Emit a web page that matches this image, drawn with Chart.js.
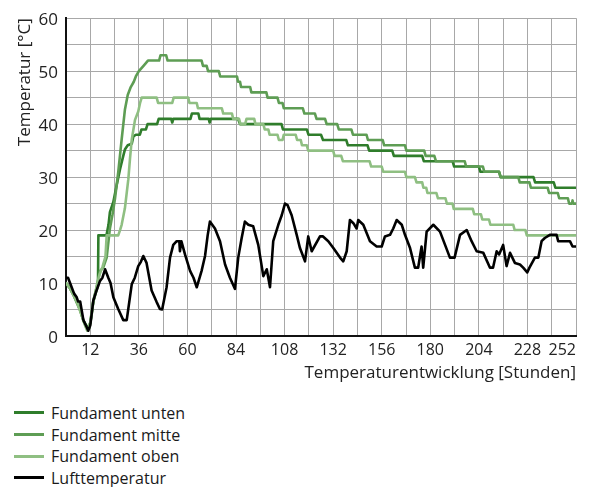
<!DOCTYPE html>
<html><head><meta charset="utf-8">
<script src="https://cdn.jsdelivr.net/npm/chart.js@4/dist/chart.umd.min.js"></script>
<style>
html,body{margin:0;padding:0;background:#fff;}
#wrap{position:relative;width:592px;height:487px;overflow:hidden;}
#c{position:absolute;left:0;top:0;}
#legend{position:absolute;left:14px;top:402px;font-family:'Open Sans',sans-serif;font-size:16px;color:#1a1a1a;}
.item{display:flex;align-items:center;height:21.7px;white-space:nowrap;}
.sw{width:30px;height:3px;margin-right:7px;}
</style></head>
<body><div id="wrap"><canvas id="c" width="592" height="390"></canvas><div id="legend"></div></div>
<script>
const seriesNames = ['Fundament unten', 'Fundament mitte', 'Fundament oben', 'Lufttemperatur'];
const seriesColors = ['#2f7d2b', '#5e9d54', '#8fbf82', '#000000'];

const hoursUnten = [0,2,4,5.3,7,8.5,10,11,12,13.5,15,15.8,16,20,21,21.7,23.4,25,26.7,28.3,29.1,30.5,32.5,33.3,34.5,36.5,37.3,39.5,40.3,45,45.8,52,52.5,53,61.5,62.2,65.4,66,70.5,71,71.5,85,86,106.5,107.2,119,119.8,126,127,138.5,139.3,149,149.8,161.2,162,176,176.8,191,191.8,204,204.8,214,214.8,231,231.8,241,241.8,252];
const fundamentUnten = [10,9,7.5,6.5,5,3,2,1.5,2.5,6.5,8.5,9.5,19,19,21,23.4,25.3,28.4,31.5,34,35.2,36,36.3,37.7,38,38,39,39,40,40,41,41,40.3,41,41,42,42,41,41,40.3,41,41,40,40,39,39,38,38,37,37,36,36,35,35,34,34,33,33,32,32,31,31,30,30,29,29,28,28];

const hoursMitte = [0,2,4,5.3,7,9,10.5,11.5,12.5,13.5,15,16.8,18.4,20.1,21.7,23,24.2,25.8,27.5,29.1,30.5,32,33.5,34.5,36,38.3,40.5,46,46.7,49.5,50.2,67,67.7,69.5,70.2,75.5,76.2,84.5,85,86,86.5,91,91.6,99,99.6,104.5,105.2,107,107.6,117,117.8,123,123.8,128,128.8,134,134.8,141,141.8,148.5,149.2,156.5,157.2,167.5,168.2,177,177.7,182,182.8,197,197.7,206,206.7,214,214.7,223.5,224.2,229,229.7,238,238.7,243,243.7,248,248.6,250,250.3,250.6,252];
const fundamentMitte = [10,9,7.5,6.3,4.8,2.5,1.3,1.5,3.5,6.5,9,12.3,12.9,14.8,20.3,23,25.9,30.9,37.1,42.7,45.5,47,48,49,50,51,52,52,53,53,52,52,51,51,50,50,49,49,48,48,47,47,46,46,45,45,44,44,43,43,42,42,41,41,40,40,39,39,38,38,37,37,36,36,35,35,34,34,33,33,32,32,31,31,30,30,29,29,28,28,27,27,26,26,25,25,25.6,25,25];

const hoursOben = [0,2,4,5.3,6.9,9.4,10.5,11.9,13.5,15.1,16.5,18,19.5,20.1,25.8,26.7,27.5,29.1,30.8,31.6,32.5,34.1,35.7,36.6,37.4,44.8,45.5,52.5,53.2,60.4,61,64.6,65.2,77,77.7,82,82.6,85.5,86.2,88.5,89.2,93,93.6,97.5,98.2,100,100.6,104.5,105.2,107,107.6,113.5,114.2,116,116.6,119,119.7,132,132.7,136,136.8,150,150.8,156,156.8,167.5,168.2,172.4,173.2,176,176.6,178,178.6,183,183.8,187.5,188.2,191,191.6,201,201.7,205,205.7,209,209.7,221,221.7,227,227.7,252];
const fundamentOben = [10,9,7.5,6.5,4.8,2,1,2.4,6.7,9.2,11.5,13,15,19,19,20,21,24.1,29.6,33.4,37.1,40.8,42.4,44,45,45,44,44,45,45,44,44,43,43,42,42,41,41,40,40,41,41,40,40,39,39,38,38,37,37,38,38,37,37,36,36,35,35,34,34,33,33,32,32,31,31,30,30,29,29,28,28,27,27,26,26,25,25,24,24,23,23,22,22,21,21,20,20,19,19];

const hoursLuft = [0,1,2,4,5.3,6,7,8.6,10.2,11,12,13.5,15,16.8,18,19.3,20.9,22,23.4,25.8,28.3,30,32.5,34,35.7,37,38.2,39.8,42.3,44.8,46.4,47.5,49.7,51.4,53,54.7,56,56.3,57,58.8,61.3,63,64.6,67,68.7,70,71.1,73.6,76.1,78.6,81,83.5,85.1,86.8,88.4,90.1,92.5,95,97.5,99.2,100.8,102.4,104.9,106.6,108.2,109.5,111.5,114,115.6,118.1,119.7,121.4,125.5,127,129.6,132.1,135.4,137,138.7,140.3,142,143.6,144.4,146.9,150.2,153.5,156,157.6,160.1,161.7,163.4,165.9,167.5,170,172.4,174,175.7,176.5,178.2,181.5,184.8,187.3,189.7,192,194.7,198,200.4,202.9,206.2,209.5,211,212.8,214,216,217.7,219.4,221.8,224.3,225.9,227.9,229,231.7,233.4,235,236.6,239.1,242.4,243.2,249,250.3,252];
const lufttemperatur = [11,11,10,8,7.3,6.5,6.5,3,1.7,1,2,6.7,8.5,10.4,11,12.6,11,10,7.3,5.1,3,3,9.8,11,13.2,14,15.1,13.8,8.6,6.4,5.1,5,9.2,14.8,17.2,17.9,17.9,16,17.9,15.4,12.3,11,9.2,12.3,15.1,19,21.6,20.3,17.9,13.5,11,8.9,14.8,18.5,21.6,21,20.7,17.2,11.3,12.6,9.2,17.9,21,22.8,25,24.7,22.8,19.1,16.6,14.1,18.8,16,18.8,18.8,17.9,16.6,14.8,14.1,16,21.9,21.3,20.3,21.9,21,17.9,16.9,16.9,18.8,19.1,20.3,21.9,21,19.1,16.6,12.9,12.9,16.9,12.9,19.7,21,19.7,17.2,14.8,14.8,19.1,20,17.9,16,15.7,12.9,12.9,16,15.4,17.2,13.2,15.7,13.8,13.5,12.9,12,12.9,14.8,14.8,17.9,18.5,19.1,19.1,17.9,17.9,16.9,16.9];

const xTickLabels = [12,36,60,84,108,132,156,180,204,228,252];
const yTickLabels = [0,10,20,30,40,50,60];

const FONT = "'Open Sans', sans-serif";
const toPts = (hs, vs) => hs.map((h, i) => ({x: h, y: vs[i]}));
const allHours = [hoursUnten, hoursMitte, hoursOben, hoursLuft];
const allVals = [fundamentUnten, fundamentMitte, fundamentOben, lufttemperatur];

const datasets = seriesNames.map((name, i) => ({
  label: name,
  data: toPts(allHours[i], allVals[i]),
  borderColor: seriesColors[i],
  backgroundColor: seriesColors[i],
  borderWidth: 2.6,
  pointRadius: 0,
  tension: 0,
  fill: false,
  order: i === 3 ? 0 : 4 - i
}));

new Chart(document.getElementById('c'), {
  type: 'line',
  data: {datasets},
  options: {
    responsive: false,
    animation: false,
    layout: {padding: {top: 13.5, right: 16, left: 0, bottom: 0}},
    plugins: {legend: {display: false}, tooltip: {enabled: false}},
    elements: {line: {borderJoinStyle: 'round', borderCapStyle: 'round'}},
    scales: {
      x: {
        type: 'linear', min: 0, max: 252,
        ticks: {stepSize: 12, autoSkip: false, maxRotation: 0, align: 'inner', padding: 5,
          font: {family: FONT, size: 16}, color: '#222',
          callback: v => xTickLabels.includes(v) ? String(v) : ''},
        grid: {color: '#a8a8a8', lineWidth: 1, drawTicks: false},
        border: {color: '#111', width: 2},
        title: {display: true, text: 'Temperaturentwicklung [Stunden]', align: 'end',
          font: {family: FONT, size: 17}, color: '#222', padding: {top: 0, bottom: 7}},
        afterFit: s => { s.height = 54; }
      },
      y: {
        min: 0, max: 60,
        ticks: {stepSize: 5, autoSkip: false, padding: 8, labelOffset: 2,
          font: {family: FONT, size: 17}, color: '#222',
          callback: v => yTickLabels.includes(v) ? String(v) : ''},
        grid: {color: '#a8a8a8', lineWidth: 1, drawTicks: false},
        border: {color: '#111', width: 2},
        title: {display: true, text: 'Temperatur [°C]', align: 'end',
          font: {family: FONT, size: 17}, color: '#222', padding: {top: 15, bottom: 0}},
        afterFit: s => { s.width = 66; }
      }
    }
  }
});

const lg = document.getElementById('legend');
seriesNames.forEach((n, i) => {
  const d = document.createElement('div'); d.className = 'item';
  const s = document.createElement('span'); s.className = 'sw'; s.style.background = seriesColors[i];
  const t = document.createElement('span'); t.textContent = n;
  d.appendChild(s); d.appendChild(t); lg.appendChild(d);
});
</script>
</body></html>
